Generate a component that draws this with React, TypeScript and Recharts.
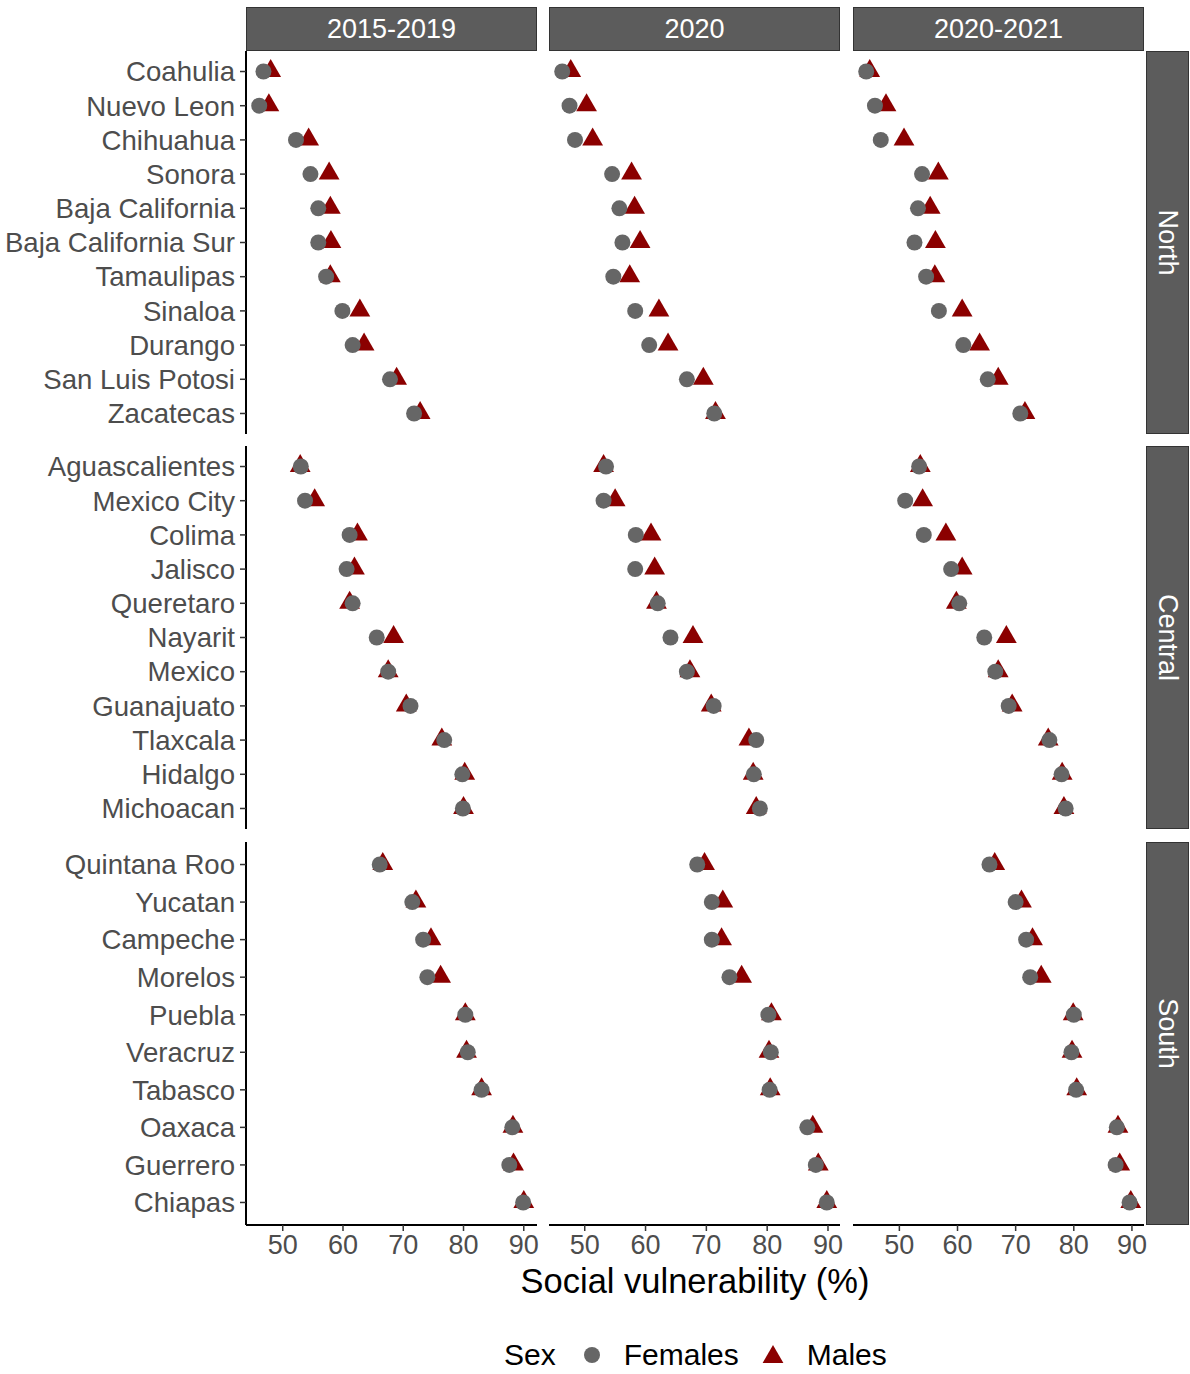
import React from "react";
import { ScatterChart, Scatter, XAxis, YAxis } from "recharts";

const periods = ["2015-2019", "2020", "2020-2021"];
const regions = ["North", "Central", "South"];

const northStates = ["Coahulia", "Nuevo Leon", "Chihuahua", "Sonora", "Baja California", "Baja California Sur", "Tamaulipas", "Sinaloa", "Durango", "San Luis Potosi", "Zacatecas"];
const centralStates = ["Aguascalientes", "Mexico City", "Colima", "Jalisco", "Queretaro", "Nayarit", "Mexico", "Guanajuato", "Tlaxcala", "Hidalgo", "Michoacan"];
const southStates = ["Quintana Roo", "Yucatan", "Campeche", "Morelos", "Puebla", "Veracruz", "Tabasco", "Oaxaca", "Guerrero", "Chiapas"];

// North
const northFemales1519 = [46.8, 46.1, 52.2, 54.6, 55.9, 55.9, 57.2, 59.9, 61.6, 67.8, 71.8];
const northMales1519 = [48.0, 47.7, 54.3, 57.7, 57.9, 58.0, 57.9, 62.8, 63.5, 68.9, 72.8];
const northFemales2020 = [46.3, 47.5, 48.4, 54.5, 55.7, 56.2, 54.7, 58.3, 60.6, 66.8, 71.3];
const northMales2020 = [47.7, 50.3, 51.3, 57.7, 58.2, 59.1, 57.4, 62.2, 63.7, 69.5, 71.5];
const northFemales2021 = [44.3, 45.8, 46.8, 53.9, 53.2, 52.6, 54.6, 56.8, 61.0, 65.2, 70.8];
const northMales2021 = [44.9, 47.7, 50.8, 56.7, 55.3, 56.2, 56.1, 60.8, 63.8, 67.0, 71.6];

// Central
const centralFemales1519 = [53.0, 53.7, 61.1, 60.6, 61.6, 65.6, 67.5, 71.2, 76.8, 79.8, 79.9];
const centralMales1519 = [52.9, 55.3, 62.4, 61.9, 61.1, 68.4, 67.5, 70.5, 76.4, 80.2, 80.0];
const centralFemales2020 = [53.5, 53.1, 58.4, 58.3, 62.0, 64.1, 66.8, 71.2, 78.2, 77.8, 78.8];
const centralMales2020 = [53.1, 55.0, 60.9, 61.5, 61.8, 67.8, 67.3, 70.8, 77.0, 77.7, 78.2];
const centralFemales2021 = [53.4, 51.0, 54.2, 58.9, 60.3, 64.6, 66.5, 68.8, 75.8, 77.9, 78.6];
const centralMales2021 = [53.6, 54.0, 58.0, 60.8, 59.8, 68.4, 67.0, 69.4, 75.6, 78.0, 78.3];

// South
const southFemales1519 = [66.1, 71.5, 73.3, 74.0, 80.3, 80.7, 83.0, 88.1, 87.6, 89.9];
const southMales1519 = [66.6, 72.1, 74.6, 76.2, 80.3, 80.5, 83.0, 88.2, 88.3, 90.0];
const southFemales2020 = [68.5, 70.9, 70.9, 73.8, 80.2, 80.6, 80.4, 86.6, 88.0, 89.8];
const southMales2020 = [69.7, 72.7, 72.5, 75.8, 80.7, 80.3, 80.5, 87.5, 88.4, 89.8];
const southFemales2021 = [65.5, 70.0, 71.8, 72.5, 80.0, 79.6, 80.4, 87.4, 87.2, 89.6];
const southMales2021 = [66.4, 71.0, 72.9, 74.4, 79.9, 79.7, 80.5, 87.6, 87.9, 89.8];

const xTicks = [50, 60, 70, 80, 90];

const stateLists = [northStates, centralStates, southStates];
const femaleValues = [
  [northFemales1519, northFemales2020, northFemales2021],
  [centralFemales1519, centralFemales2020, centralFemales2021],
  [southFemales1519, southFemales2020, southFemales2021],
];
const maleValues = [
  [northMales1519, northMales2020, northMales2021],
  [centralMales1519, centralMales2020, centralMales2021],
  [southMales1519, southMales2020, southMales2021],
];

const FONT = '"Liberation Sans", Arial, Helvetica, sans-serif';
const COL_X = [246, 549, 853];
const ROW_Y = [51, 446, 842];
const PW = 291;
const PH = 383;
const Y_AXIS_W = 246;
const X_AXIS_H = 60;
const RIGHT_PAD = 24; // room for the last tick label
const FEMALE = "#666666";
const MALE = "#8B0000";
const STRIP_FILL = "#5c5c5c";

// free x scale per column, 5% expansion like ggplot
const xDomains = periods.map((_, c) => {
  const all: number[] = [];
  for (let r = 0; r < 3; r++) all.push(...femaleValues[r][c], ...maleValues[r][c]);
  const lo = Math.min(...all);
  const hi = Math.max(...all);
  const pad = (hi - lo) * 0.05;
  return [lo - pad, hi + pad];
});

const circleShape = (p: any) => <circle cx={p.cx} cy={p.cy} r={8} fill={FEMALE} />;
const triangleShape = (p: any) => (
  <polygon
    points={`${p.cx},${p.cy - 12.5} ${p.cx + 10.4},${p.cy + 5.5} ${p.cx - 10.4},${p.cy + 5.5}`}
    fill={MALE}
  />
);

const Panel = ({ row, col }: { row: number; col: number }) => {
  const states = stateLists[row];
  const fData = states.map((s, i) => ({ state: s, x: femaleValues[row][col][i], y: i + 1 }));
  const mData = states.map((s, i) => ({ state: s, x: maleValues[row][col][i], y: i + 1 }));
  const showY = col === 0;
  const showX = row === 2;
  const width = PW + RIGHT_PAD + (showY ? Y_AXIS_W : 0);
  const height = PH + (showX ? X_AXIS_H : 0);
  const left = COL_X[col] - (showY ? Y_AXIS_W : 0);

  return (
    <div style={{ position: "absolute", left, top: ROW_Y[row] }}>
      <ScatterChart width={width} height={height} margin={{ top: 0, right: RIGHT_PAD, bottom: 0, left: 0 }}>
        <XAxis
          type="number"
          dataKey="x"
          domain={xDomains[col]}
          ticks={xTicks}
          interval={0}
          hide={!showX}
          height={X_AXIS_H}
          axisLine={{ stroke: "#000", strokeWidth: 2 }}
          tickLine={{ stroke: "#333", strokeWidth: 1.5 }}
          tickSize={6}
          tickMargin={4}
          tick={{ fontSize: 27, fill: "#4D4D4D", fontFamily: FONT }}
        />
        <YAxis
          type="number"
          dataKey="y"
          domain={[0.4, states.length + 0.6]}
          reversed
          ticks={states.map((_, i) => i + 1)}
          interval={0}
          tickFormatter={(v: number) => states[Math.round(v) - 1]}
          hide={!showY}
          width={Y_AXIS_W}
          axisLine={{ stroke: "#000", strokeWidth: 2 }}
          tickLine={{ stroke: "#333", strokeWidth: 1.5 }}
          tickSize={6}
          tickMargin={5}
          tick={{ fontSize: 27.6, fill: "#4D4D4D", fontFamily: FONT }}
        />
        <Scatter name="Males" data={mData} shape={triangleShape} isAnimationActive={false} />
        <Scatter name="Females" data={fData} shape={circleShape} isAnimationActive={false} />
      </ScatterChart>
    </div>
  );
};

const stripText: React.CSSProperties = {
  position: "absolute",
  background: STRIP_FILL,
  border: "1.5px solid #333",
  boxSizing: "border-box",
  color: "#fff",
  fontSize: 27,
  display: "flex",
  alignItems: "center",
  justifyContent: "center",
};

export default function App() {
  return (
    <div
      style={{
        position: "absolute",
        left: 0,
        top: 0,
        width: 1190,
        height: 1374,
        background: "#fff",
        fontFamily: FONT,
      }}
    >
      {periods.map((p, c) => (
        <div key={p} style={{ ...stripText, left: COL_X[c], top: 7, width: PW, height: 44 }}>
          {p}
        </div>
      ))}
      {regions.map((r, i) => (
        <div key={r} style={{ ...stripText, left: 1146, top: ROW_Y[i], width: 43, height: PH }}>
          <span style={{ transform: "rotate(90deg)", whiteSpace: "nowrap" }}>{r}</span>
        </div>
      ))}

      {[0, 1, 2].map((r) => [0, 1, 2].map((c) => <Panel key={`${r}-${c}`} row={r} col={c} />))}

      <div
        style={{
          position: "absolute",
          left: COL_X[0],
          width: COL_X[2] + PW - COL_X[0],
          top: 1262,
          textAlign: "center",
          fontSize: 34.5,
          color: "#000",
        }}
      >
        Social vulnerability (%)
      </div>

      <div
        style={{
          position: "absolute",
          left: 504,
          top: 1337,
          height: 36,
          display: "flex",
          alignItems: "center",
          fontSize: 30,
          color: "#000",
        }}
      >
        <span>Sex</span>
        <svg width={34} height={30} style={{ marginLeft: 19 }}>
          <circle cx={17} cy={15} r={8} fill={FEMALE} />
        </svg>
        <span style={{ marginLeft: 15 }}>Females</span>
        <svg width={34} height={30} style={{ marginLeft: 17 }}>
          <polygon points="17,5 27.4,23 6.6,23" fill={MALE} />
        </svg>
        <span style={{ marginLeft: 17 }}>Males</span>
      </div>
    </div>
  );
}
